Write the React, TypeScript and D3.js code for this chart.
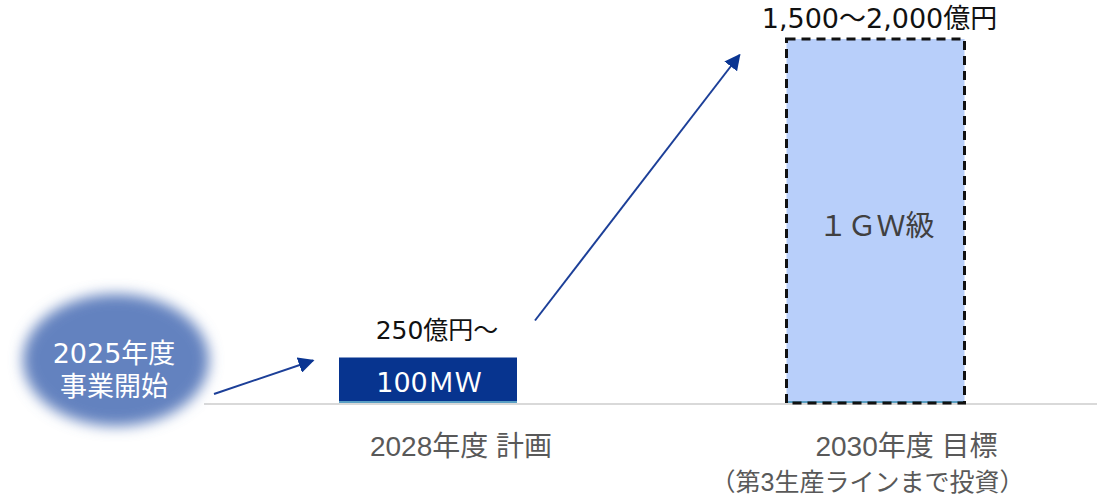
import React from "react";
import * as d3 from "d3";

// Investment plan: production capacity and investment amount per milestone
const categories = ["2028年度 計画", "2030年度 目標"];
const subNotes = ["", "（第3生産ラインまで投資）"];
const investment = [250, 2000]; // 億円 (upper bound of the 2030 range)
const investmentLabels = ["250億円～", "1,500～2,000億円"];
const capacityLabels = ["100ＭＷ", "１ＧＷ級"];
const startLines = ["2025年度", "事業開始"];

const W = 1097;
const H = 498;
const baseY = 403;
const topY = 39;
const barW = 178;

const JP = "'Noto Sans CJK JP', 'Noto Sans', sans-serif";
const WIDE = "'DejaVu Sans', 'Noto Sans CJK JP', sans-serif";
const AX = "'Liberation Sans', 'Noto Sans CJK JP', sans-serif";

export default function App() {
  const x = d3.scalePoint<string>().domain(categories).range([428, 875.5]);
  const y = d3.scaleLinear().domain([0, 2000]).range([baseY, topY]);

  const barStyles = [
    { fill: "#07348f", stroke: "none", dash: "", text: "#ffffff", font: WIDE, size: 27, labelGap: 19, labelSize: 25, labelDx: 9 },
    { fill: "#b8cffa", stroke: "#111111", dash: "9 6", text: "#404040", font: JP, size: 29, labelGap: 11, labelSize: 27, labelDx: 4 },
  ];

  const arrowLine = d3.line();
  const b0 = x(categories[0])!;
  const b1 = x(categories[1])!;
  const arrows: [number, number][][] = [
    [
      [214, 394],
      [b0 - barW / 2 - 26, y(investment[0]) + 3],
    ],
    [
      [b0 + barW / 2 + 18, y(investment[0]) - 37],
      [b1 - barW / 2 - 47, y(investment[1]) + 16],
    ],
  ];

  return (
    <svg
      width={W}
      height={H}
      style={{ position: "absolute", left: 0, top: 0, background: "#fff" }}
    >
      <defs>
        <filter id="soft" x="-30%" y="-30%" width="160%" height="160%">
          <feGaussianBlur stdDeviation="7" />
        </filter>
        <marker
          id="head"
          viewBox="0 0 10 10"
          refX="9"
          refY="5"
          markerWidth="16"
          markerHeight="16"
          markerUnits="userSpaceOnUse"
          orient="auto"
        >
          <path d="M0,0 L10,5 L0,10 z" fill="#0a3592" />
        </marker>
      </defs>

      {/* baseline */}
      <line x1={204} x2={W} y1={baseY + 1} y2={baseY + 1} stroke="#d9d9d9" strokeWidth={2} />

      {/* starting point */}
      <ellipse cx={116} cy={360} rx={93} ry={66} fill="#6482bf" filter="url(#soft)" />
      {startLines.map((t, i) => (
        <text
          key={t}
          x={114}
          y={363 + i * 33}
          textAnchor="middle"
          fontFamily={WIDE}
          fontSize={27}
          fill="#ffffff"
        >
          {t}
        </text>
      ))}

      {/* bars */}
      {categories.map((c, i) => {
        const s = barStyles[i];
        const cx = x(c)!;
        const top = y(investment[i]);
        return (
          <g key={c}>
            <rect x={cx - barW / 2} y={top} width={barW} height={baseY - top} fill={s.fill} />
            <line
              x1={cx - barW / 2}
              x2={cx + barW / 2}
              y1={baseY - 1}
              y2={baseY - 1}
              stroke="#5a9fc4"
              strokeWidth={2}
            />
            {s.stroke !== "none" && (
              <rect
                x={cx - barW / 2}
                y={top}
                width={barW}
                height={baseY - top}
                fill="none"
                stroke={s.stroke}
                strokeWidth={3}
                strokeDasharray={s.dash}
              />
            )}
            <text
              x={cx + 1}
              y={(top + baseY) / 2 + 2}
              textAnchor="middle"
              dominantBaseline="central"
              fontFamily={s.font}
              fontSize={s.size}
              fill={s.text}
            >
              {capacityLabels[i]}
            </text>
            <text
              x={cx + s.labelDx}
              y={top - s.labelGap}
              textAnchor="middle"
              fontFamily={WIDE}
              fontSize={s.labelSize}
              fill="#111111"
            >
              {investmentLabels[i]}
            </text>
            <text
              x={cx + (i === 0 ? 33 : 31)}
              y={456}
              textAnchor="middle"
              fontFamily={AX}
              fontSize={28}
              fill="#595959"
            >
              {c}
            </text>
            {subNotes[i] && (
              <text
                x={cx - 8}
                y={491}
                textAnchor="middle"
                fontFamily={AX}
                fontSize={25}
                fill="#595959"
              >
                {subNotes[i]}
              </text>
            )}
          </g>
        );
      })}

      {/* progression arrows */}
      {arrows.map((a, i) => (
        <path
          key={i}
          d={arrowLine(a)!}
          fill="none"
          stroke="#1c3f98"
          strokeWidth={2}
          markerEnd="url(#head)"
        />
      ))}
    </svg>
  );
}
